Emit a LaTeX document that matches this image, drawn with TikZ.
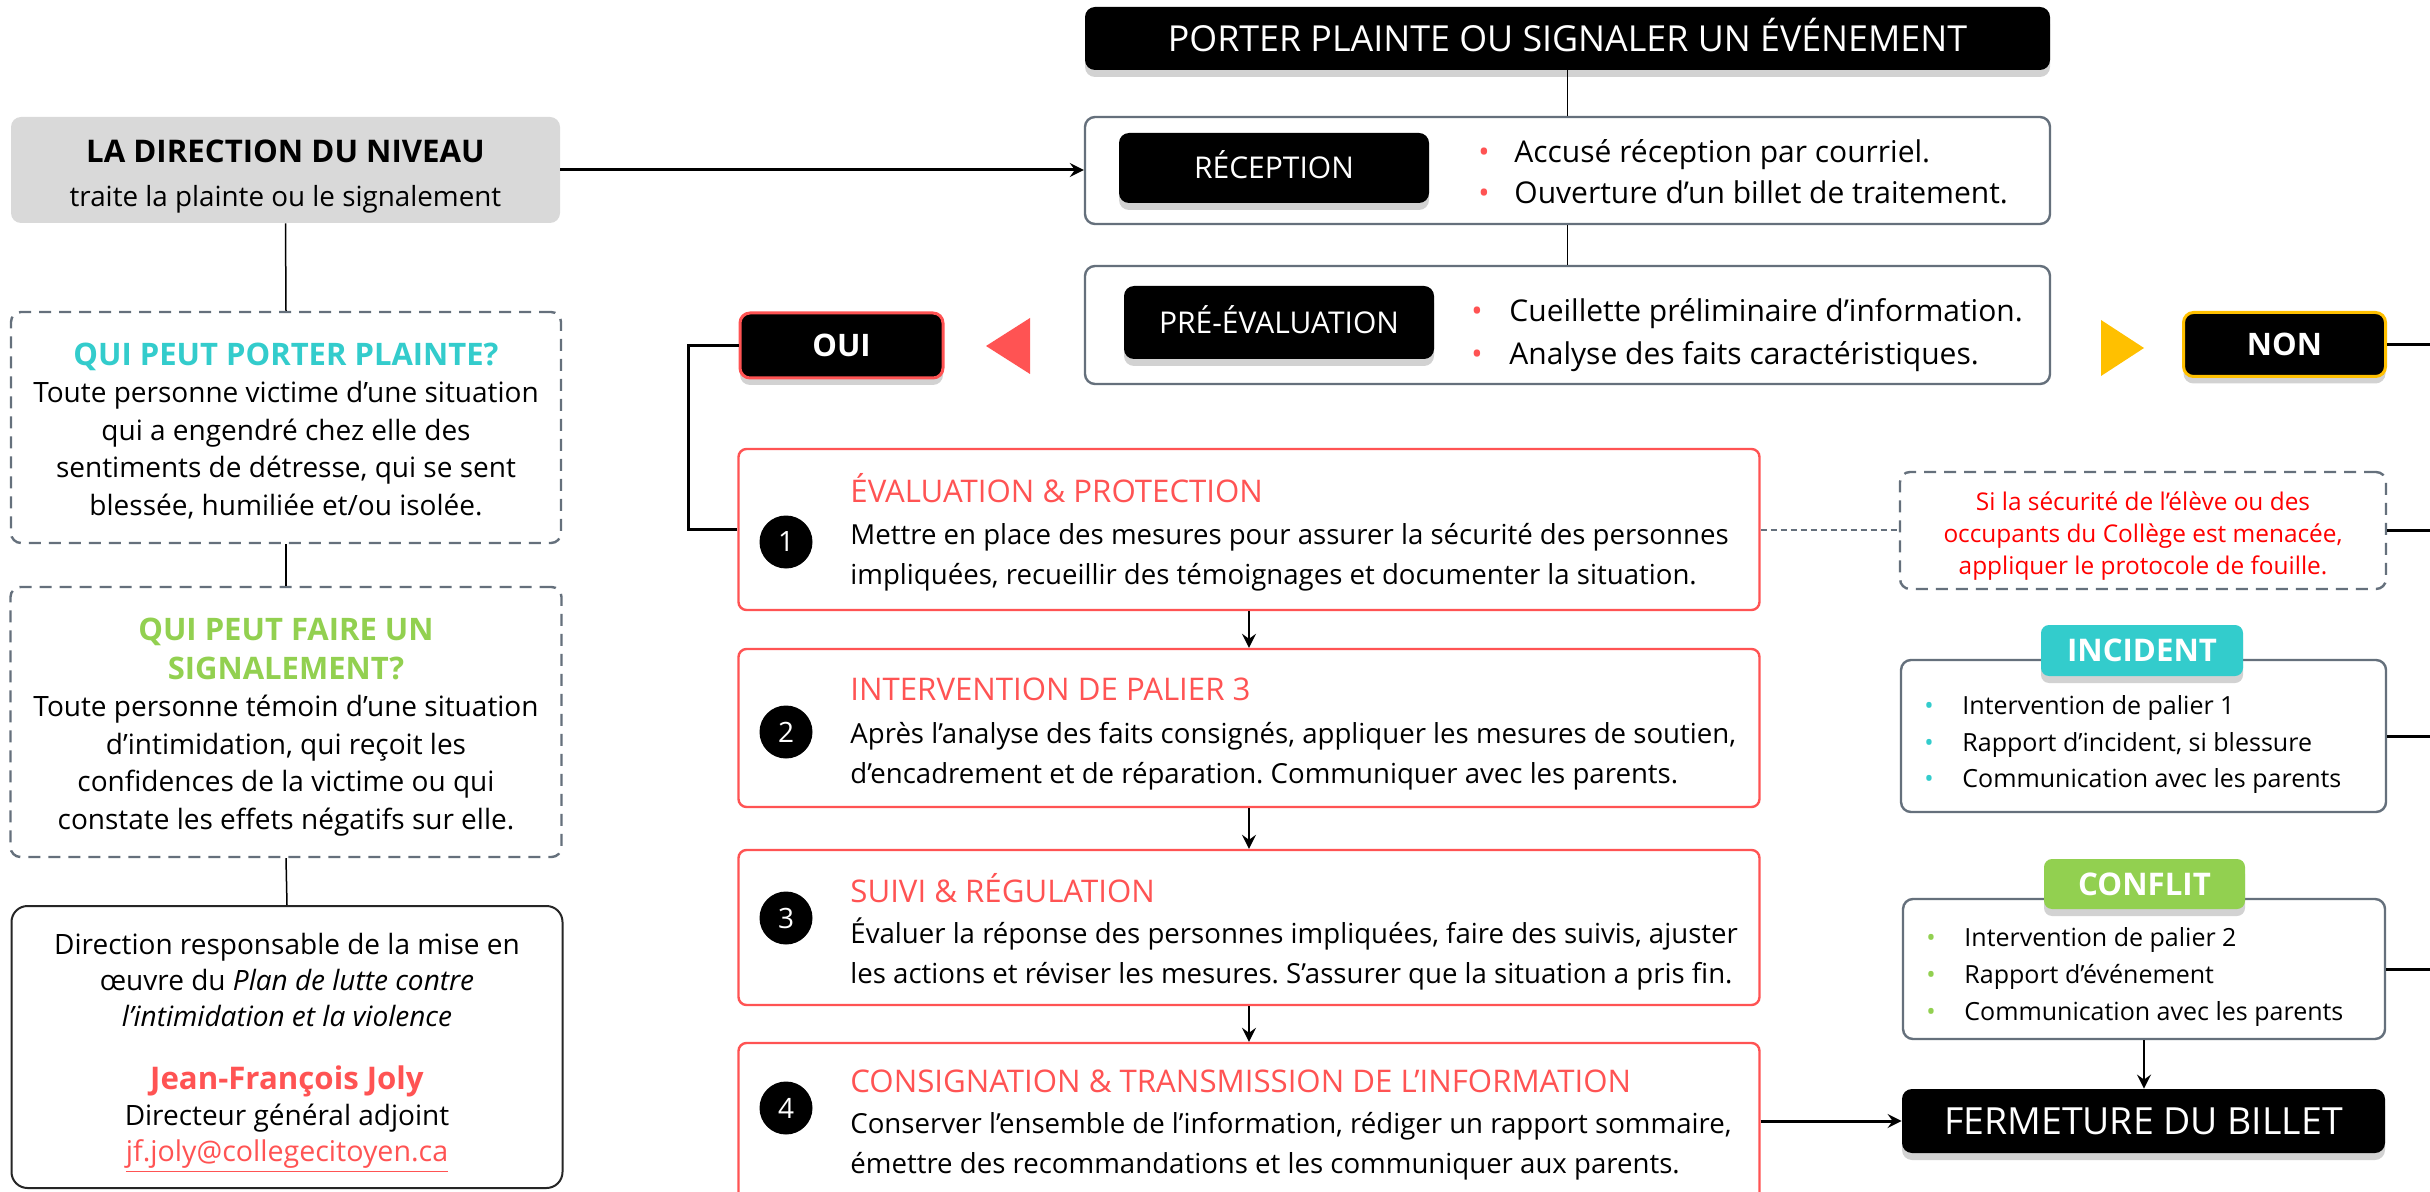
\documentclass[tikz,border=0pt]{standalone}
\usepackage{fontspec}
\setmainfont{Open Sans}
\usepackage{tikz}
\usetikzlibrary{positioning,shadows,arrows.meta}
\frenchspacing

\definecolor{rouge}{HTML}{FF5353}
\definecolor{rougevif}{HTML}{FF0000}
\definecolor{turquoise}{HTML}{33CCCC}
\definecolor{vert}{HTML}{92D050}
\definecolor{jaune}{HTML}{FFC000}
\definecolor{ardoise}{HTML}{65707C}
\definecolor{gris}{HTML}{D9D9D9}

\newcommand{\puce}[2][18pt]{\makebox[#1][l]{\textcolor{#2}{•}}}

\begin{document}
\begin{tikzpicture}[x=0.5pt,y=-0.5pt,
    every node/.style={inner sep=0pt},
    noir/.style={fill=black,text=white,rounded corners=5pt,
        drop shadow={shadow xshift=0pt,shadow yshift=-3.5pt,opacity=0.35}},
    cadre/.style={draw=ardoise,fill=white,line width=1.2pt,rounded corners=5pt},
    pointille/.style={draw=ardoise,line width=1.2pt,dash pattern=on 6pt off 4pt,rounded corners=5pt},
    etape/.style={draw=rouge,fill=white,line width=1.2pt,rounded corners=4pt,minimum width=510.5pt},
    pastille/.style={circle,fill=black,text=white,minimum size=26.5pt,font=\fontsize{14}{14}\selectfont},
    titre/.style={anchor=west,text=rouge,font=\fontsize{15.6}{18}\selectfont},
    corps/.style={anchor=west,align=left,font=\fontsize{13.8}{20}\selectfont},
    gauche/.style={align=center,font=\fontsize{14}{18.75}\selectfont},
    lien/.style={line width=0.75pt},
    fleche/.style={line width=1pt,-{Stealth[length=7pt,width=7pt,inset=2.5pt]}},
    gras/.style={line width=1.5pt}
    ]

\path[use as bounding box,fill=white] (0,0) rectangle (2430,1192);
\clip (0,0) rectangle (2430,1192);
\coordinate (bord) at (2430,0);

% Colonne de gauche
\node[fill=gris,rounded corners=5pt,minimum width=274.5pt,minimum height=53pt] (direction) at (285.5,170) {};
\node[align=center,font=\fontsize{13.9}{22}\selectfont] (txtdirection) at (285.5,176.5)
    {{\fontsize{15.6}{22}\bfseries LA DIRECTION DU NIVEAU}\\ traite la plainte ou le signalement};
\node[pointille,minimum width=275pt,minimum height=115.5pt] (plainte) at (286,427.5) {};
\node[gauche] (txtplainte) at (286,431)
    {{\color{turquoise}\fontsize{15.5}{19.5}\bfseries QUI PEUT PORTER PLAINTE?}\\[-0.25pt]
     Toute personne victime d’une situation\\ qui a engendré chez elle des\\
     sentiments de détresse, qui se sent\\ blessée, humiliée et/ou isolée.};
\node[pointille,minimum width=275.5pt,minimum height=135pt] (signal) at (286,722) {};
\node[gauche] (txtsignal) at (286,727)
    {{\color{vert}\fontsize{15.5}{19.5}\bfseries QUI PEUT FAIRE UN}\\[0.75pt]
     {\color{vert}\fontsize{15.5}{19.5}\bfseries SIGNALEMENT?}\\[-0.25pt]
     Toute personne témoin d’une situation\\ d’intimidation, qui reçoit les\\
     confidences de la victime ou qui\\ constate les effets négatifs sur elle.};
\node[draw=black!85,line width=1pt,rounded corners=8pt,minimum width=275.5pt,minimum height=141pt]
    (responsable) at (287,1047) {};
\node[gauche,font=\fontsize{14}{18}\selectfont] (txtresponsable) at (287,1053)
    {Direction responsable de la mise en\\ œuvre du \textit{Plan de lutte contre}\\
     \textit{l’intimidation et la violence}\\[13.5pt]
     {\color{rouge}\fontsize{15.6}{18}\bfseries Jean-François Joly}\\
     Directeur général adjoint\\ {\color{rouge}\fontsize{14.3}{18}\selectfont\underline{jf.joly@collegecitoyen.ca}}};
\draw[lien] (direction.south) -- (plainte.north);
\draw[lien] (plainte.south) -- (signal.north);
\draw[lien] (signal.south) -- (responsable.north);

% Reception et pre-evaluation
\node[noir,minimum width=482.5pt,minimum height=31.5pt,text height=12.8pt,text depth=0pt,
    font=\fontsize{17.9}{20}\selectfont] (porter) at (1567.5,38.5) {PORTER PLAINTE OU SIGNALER UN ÉVÉNEMENT};
\node[cadre,minimum width=482.5pt,minimum height=53.5pt] (reception) at (1567.5,170.5) {};
\node[noir,minimum width=155pt,minimum height=35pt,text height=10.7pt,text depth=0pt,
    font=\fontsize{15}{18}\selectfont] (lblreception) at (1274,168) {RÉCEPTION};
\node[anchor=west,align=left,font=\fontsize{15}{20.5}\selectfont] (listereception) at (1478,172)
    {\puce{rouge}Accusé réception par courriel.\\ \puce{rouge}Ouverture d’un billet de traitement.};
\node[cadre,minimum width=482.5pt,minimum height=59pt] (preeval) at (1567.5,325) {};
\node[noir,minimum width=155pt,minimum height=36.5pt,text height=10.7pt,text depth=0pt,
    font=\fontsize{15}{18}\selectfont] (lblpreeval) at (1279,322.5) {PRÉ-ÉVALUATION};
\node[anchor=west,align=left,font=\fontsize{15}{21.5}\selectfont] (listepreeval) at (1471,335)
    {\puce[19pt]{rouge}Cueillette préliminaire d’information.\\ \puce[19pt]{rouge}Analyse des faits caractéristiques.};
\draw[lien] (porter.south) -- (reception.north);
\draw[lien] (reception.south) -- (preeval.north);
\draw[gras,-{Stealth[length=7pt,width=7pt,inset=2.5pt]}] (direction.east) -- (direction.east -| reception.west);

% OUI / NON
\fill[rouge] (986,346) -- (1030,318) -- (1030,374) -- cycle;
\fill[jaune] (2144,348) -- (2101,320) -- (2101,376) -- cycle;
\node[noir,draw=rouge,line width=1.5pt,minimum width=101.5pt,minimum height=32.5pt,
    font=\fontsize{15.5}{16}\bfseries] (oui) at (841.5,345.5) {OUI};
\node[noir,draw=jaune,line width=1.5pt,minimum width=101pt,minimum height=32pt,
    font=\fontsize{15.5}{16}\bfseries] (non) at (2284.5,344.5) {NON};

% Etapes 1 a 4
\node[etape,minimum height=80.5pt] (etape1) at (1249,529.5) {};
\node[pastille] (num1) at (786,542) {1};
\node[titre] (titre1) at (850,488.5) {ÉVALUATION \& PROTECTION};
\node[corps] (corps1) at (850,557.5) {Mettre en place des mesures pour assurer la sécurité des personnes\\
    impliquées, recueillir des témoignages et documenter la situation.};

\node[etape,minimum height=79pt] (etape2) at (1249,728) {};
\node[pastille] (num2) at (786,732) {2};
\node[titre] (titre2) at (850,689) {INTERVENTION DE PALIER 3};
\node[corps] (corps2) at (850,756) {Après l’analyse des faits consignés, appliquer les mesures de soutien,\\
    d’encadrement et de réparation. Communiquer avec les parents.};

\node[etape,minimum height=77.5pt] (etape3) at (1249,927.5) {};
\node[pastille] (num3) at (786,918) {3};
\node[titre] (titre3) at (850,888) {SUIVI \& RÉGULATION};
\node[corps] (corps3) at (850,954) {Évaluer la réponse des personnes impliquées, faire des suivis, ajuster\\
    les actions et réviser les mesures. S’assurer que la situation a pris fin.};

\node[etape,minimum height=80pt] (etape4) at (1249,1123) {};
\node[pastille] (num4) at (786,1108) {4};
\node[titre] (titre4) at (850,1081) {CONSIGNATION \& TRANSMISSION DE L’INFORMATION};
\node[corps] (corps4) at (850,1146) {Conserver l’ensemble de l’information, rédiger un rapport sommaire,\\
    émettre des recommandations et les communiquer aux parents.};

\draw[line width=1.2pt] (oui.west) -- ++(-50,0) |- (etape1.west);
\draw[fleche] (etape1.south) -- (etape2.north);
\draw[fleche] (etape2.south) -- (etape3.north);
\draw[fleche] (etape3.south) -- (etape4.north);

% Colonne de droite
\node[pointille,minimum width=243pt,minimum height=58.5pt] (securite) at (2143,530.5) {};
\node[align=center,text=rougevif,font=\fontsize{12.2}{16}\selectfont] (txtsecurite) at (2143,536)
    {Si la sécurité de l’élève ou des\\ occupants du Collège est menacée,\\ appliquer le protocole de fouille.};
\draw[ardoise,line width=1pt,dash pattern=on 3pt off 2pt] (etape1.east) -- (etape1.east -| securite.west);

\node[cadre,minimum width=242.5pt,minimum height=76pt] (incident) at (2143.5,736) {};
\node[noir,fill=turquoise,rounded corners=4pt,minimum width=101pt,minimum height=25.5pt,
    font=\fontsize{15.6}{16}\bfseries] (lblincident) at (2142,650.5) {INCIDENT};
\node[anchor=west,align=left,font=\fontsize{12.5}{18.25}\selectfont] (listeincident) at (1924,745)
    {\puce[19pt]{turquoise}Intervention de palier 1\\ \puce[19pt]{turquoise}Rapport d’incident, si blessure\\
     \puce[19pt]{turquoise}Communication avec les parents};

\node[cadre,minimum width=241pt,minimum height=70pt] (conflit) at (2144,969) {};
\node[noir,fill=vert,rounded corners=4pt,minimum width=100.5pt,minimum height=25pt,
    font=\fontsize{15.6}{16}\bfseries] (lblconflit) at (2144.5,884) {CONFLIT};
\node[anchor=west,align=left,font=\fontsize{12.5}{18.5}\selectfont] (listeconflit) at (1926,977)
    {\puce[19pt]{vert}Intervention de palier 2\\ \puce[19pt]{vert}Rapport d’événement\\
     \puce[19pt]{vert}Communication avec les parents};

\node[noir,minimum width=241.5pt,minimum height=32pt,font=\fontsize{18.7}{20}\selectfont] (fermeture)
    at (2143.5,1121) {FERMETURE DU BILLET};

\draw[fleche] (conflit.south) -- (conflit.south |- fermeture.north);
\draw[gras,-{Stealth[length=7pt,width=7pt,inset=2.5pt]}] (etape4.east |- fermeture.west) -- (fermeture.west);

% Liens vers la droite
\draw[gras] (non.east) -- (non.east -| bord);
\draw[gras] (securite.east) -- (securite.east -| bord);
\draw[gras] (incident.east) -- (incident.east -| bord);
\draw[gras] (conflit.east) -- (conflit.east -| bord);

\end{tikzpicture}
\end{document}
